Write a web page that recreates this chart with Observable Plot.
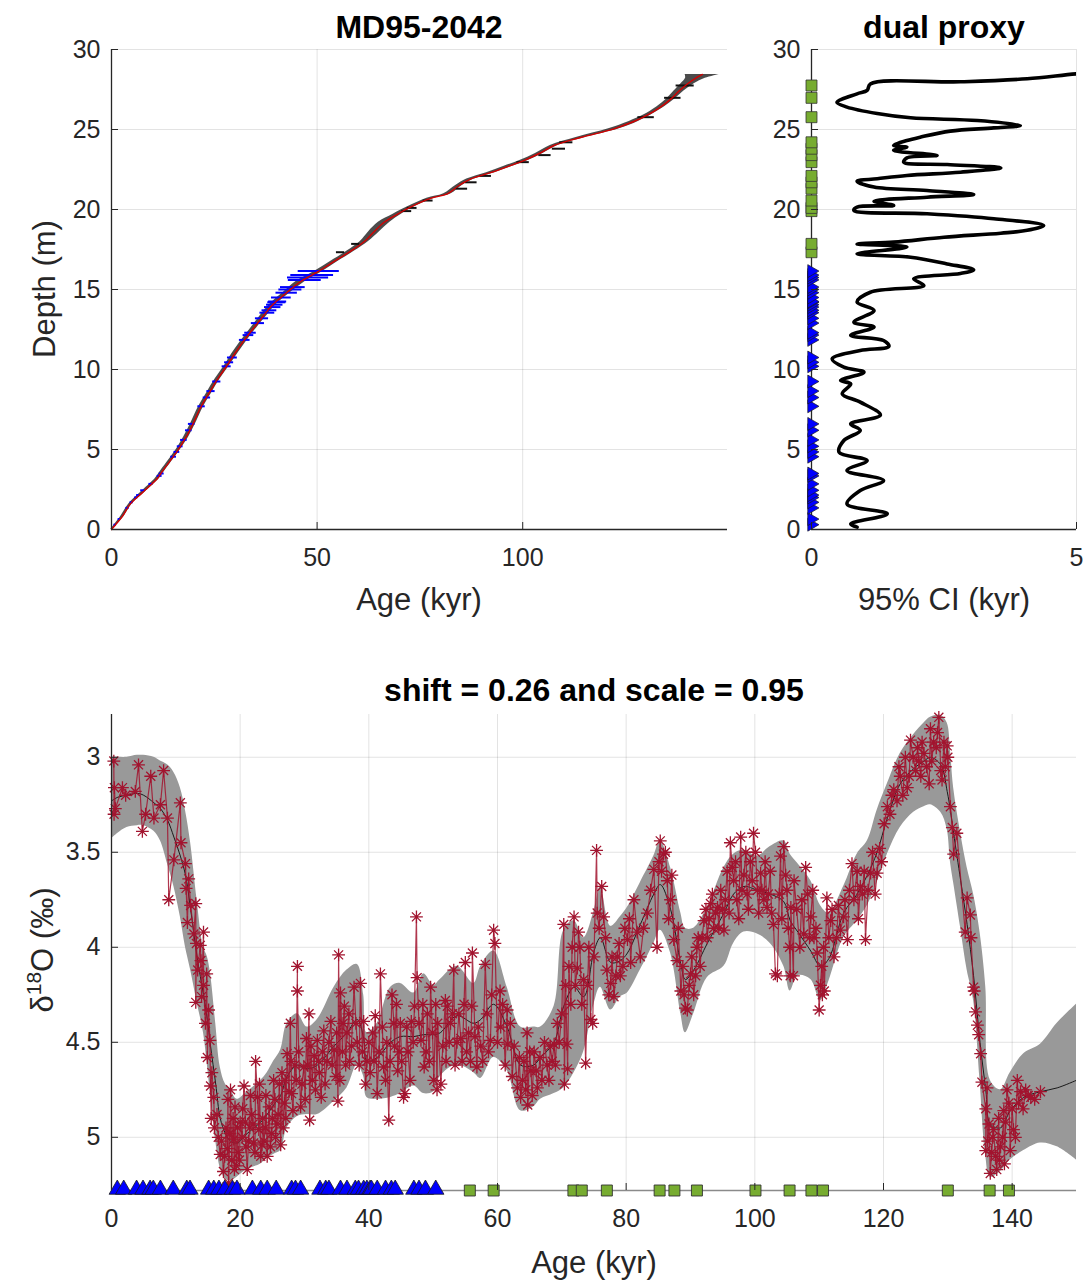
<!DOCTYPE html>
<html>
<head>
<meta charset="utf-8">
<script src="https://cdn.jsdelivr.net/npm/d3@7"></script>
<script src="https://cdn.jsdelivr.net/npm/@observablehq/plot@0.6"></script>
<style>
  body { margin: 0; background: #fff; }
  #root { position: relative; width: 1089px; height: 1285px; font-family: "Liberation Sans", Arial, Helvetica, sans-serif; color: #262626; overflow: hidden; }
  #root svg { position: absolute; overflow: visible; }
  .ttl { position: absolute; font-weight: bold; font-size: 32px; color: #000; transform: translate(-50%, -50%); white-space: nowrap; line-height: 1; }
  .lbl { position: absolute; font-size: 31px; color: #262626; transform: translate(-50%, -50%); white-space: nowrap; line-height: 1; }
  .rot { transform: translate(-50%, -50%) rotate(-90deg); }
  .lbl sup { font-size: 21px; vertical-align: 12px; line-height: 0; }
</style>
</head>
<body>
<div id="root"></div>
<script>
// ---------------- DATA ----------------
// Age-depth model (top left): median age (kyr) at depth (m) and ensemble half-spread
const admDepth  = [0,0.3,0.8,1.6,2.3,3.17,3.5,4.2,4.9,5.8,6.7,7.64,8.6,9.4,10.25,11.0,11.8,12.6,13.4,14.0,14.83,15.5,16.08,16.6,17.4,18.0,18.6,19.2,19.7,20.15,20.7,20.98,21.5,21.9,22.3,22.7,23.06,23.5,24.0,24.5,25.04,25.5,25.9,26.4,26.9,27.4,27.86,28.2,28.44];
const admAge    = [0,1.0,2.6,4.6,7.5,11.1,12.0,14.0,16.0,18.2,20.0,21.7,23.9,25.8,28.1,30.0,32.2,34.6,37.1,39.0,42.7,46.0,50.0,53.2,58.2,61.5,63.8,66.3,69.5,72.7,77.6,81.7,84.5,87.3,92.2,96.5,100.3,104.0,107.6,114.1,122.2,127.0,130.3,133.5,136.0,138.0,140.1,142.0,143.7];
const admSpread = [0.2,0.3,0.4,0.4,0.5,0.5,0.5,0.5,0.5,0.6,0.6,0.6,0.6,0.6,0.6,0.7,0.7,0.7,0.8,0.8,0.9,1.1,1.0,0.9,0.9,1.0,1.3,1.4,1.0,0.8,0.9,0.9,0.8,0.9,1.0,1.0,1.0,0.9,0.9,1.1,1.3,1.1,0.9,0.9,1.0,1.2,1.6,2.4,4.2];

// Radiocarbon dates (blue triangles)
const c14Age   = [0.9,1.9,3.9,4.9,6.0,6.5,7.6,9.6,11.7,12.2,15.1,15.9,16.7,17.6,18.8,19.5,21.9,23.2,24.2,25.6,28.0,28.6,29.4,32.4,33.3,33.8,35.6,36.6,37.9,38.4,39.2,39.7,40.2,40.4,41.3,42.6,43.5,44.1,47.0,47.8,48.8,50.4];
const c14Depth = [0.3,0.65,1.35,1.7,2.0,2.15,2.45,2.85,3.35,3.5,4.55,4.85,5.2,5.6,6.2,6.6,7.7,8.25,8.65,9.25,10.2,10.45,10.75,11.85,12.15,12.3,12.9,13.2,13.55,13.7,13.9,14.05,14.2,14.25,14.5,14.8,15.0,15.15,15.6,15.75,15.9,16.15];
const c14Err   = [0.3,0.3,0.4,0.4,0.4,0.4,0.5,0.5,0.6,0.6,0.7,0.7,0.7,0.8,0.8,0.8,0.9,0.9,1.0,1.0,1.1,1.1,1.2,1.3,1.3,1.4,1.6,1.6,1.8,1.8,2.0,2.0,2.2,2.2,2.4,2.6,2.8,3.0,4.0,5.0,5.2,5.0];

// Tie points (green squares)
const tieAge   = [55.7,59.4,71.8,73.1,77.0,85.2,87.5,91.0,100.1,105.4,108.8,110.6,130.0,136.5,139.5];
const tieDepth = [17.33,17.85,19.9,20.1,20.56,21.3,21.7,22.1,22.96,23.4,23.8,24.2,25.77,26.98,27.75];
const tieErr   = [1.0,1.0,1.2,1.2,1.2,1.4,1.4,1.4,1.5,1.5,1.6,1.6,2.0,2.0,2.2];

// 95% CI width (kyr) versus depth (top right)
const ciDepth = [28.6,28.48,28.17,27.98,27.85,27.44,27.23,26.7,26.4,26.0,25.73,25.56,25.25,25.1,24.9,24.52,24.31,24.0,23.9,23.69,23.38,23.23,22.96,22.81,22.6,22.33,22.13,21.92,21.77,21.4,21.19,20.94,20.77,20.52,20.25,20.15,19.94,19.73,19.42,19.0,18.7,18.52,18.27,17.96,17.85,17.65,17.23,17.02,16.6,16.23,16.0,15.67,15.25,14.83,14.21,13.69,12.96,12.65,12.13,11.81,11.44,11.19,10.67,10.15,9.83,9.31,9.1,8.48,7.96,7.15,6.6,6.19,5.56,4.83,4.31,3.69,3.06,2.44,1.6,0.98,0.35,0.15];
const ciValue = [5.6,5.0,4.07,2.81,1.11,1.05,0.86,0.48,0.67,1.24,1.87,3.13,3.94,3.44,2.62,2.05,1.80,1.55,1.80,1.55,2.37,1.80,1.74,2.56,3.57,2.81,1.80,1.24,0.86,1.18,2.18,3.06,2.18,1.18,1.55,0.86,0.80,2.18,3.44,4.38,4.07,3.57,2.50,1.55,0.86,1.80,0.86,1.87,2.56,3.06,2.81,1.93,2.12,1.11,0.86,1.18,0.80,1.18,0.74,1.36,1.46,0.92,0.39,0.61,0.99,0.55,0.74,0.58,0.92,1.30,0.74,0.92,0.61,0.52,1.05,0.67,1.36,0.92,0.67,1.43,0.74,0.86];

// d18O stack envelope (bottom): age, upper bound, median, lower bound
const bandAge    = [0,1,2.4,4,5,6.6,7.6,8.7,9.7,10.7,11.5,12.3,13.3,14.3,14.9,15.4,16.2,16.9,17.7,18.5,19.5,21.1,23.2,24.2,25.2,26.3,27.3,28.9,30.4,32,34.6,36.6,38.2,39.2,39.7,41.3,43.4,44.9,47,48.5,50.1,51.1,53.7,56.3,57.4,59.4,61.5,63.6,65.6,66.7,68.8,70.3,71.9,73.4,75,76,77.6,79.1,80.2,82.2,84.3,85.3,86.9,88.5,89.2,90.5,92.6,95.2,96.7,98.3,100.4,102.4,104.5,105.5,106.7,108.7,110.2,111.5,113.8,115.9,117.5,119,120.6,122.6,124.7,126.3,127.3,128.9,129.9,130.4,130.9,132,133,134,135,135.9,136.6,138.2,139.7,141.8,144.4,147,150];
const bandUpper  = [3.00,3.00,3.00,2.99,2.99,3.00,3.02,3.04,3.08,3.16,3.28,3.45,3.75,4.00,4.05,4.14,4.40,4.63,4.72,4.75,4.80,4.76,4.70,4.66,4.60,4.54,4.40,4.35,4.42,4.38,4.21,4.12,4.09,4.25,4.45,4.40,4.21,4.19,4.24,4.14,4.20,4.17,4.10,4.19,4.10,4.02,4.21,4.42,4.42,4.42,4.31,3.91,3.86,3.95,3.81,3.68,3.89,3.84,3.79,3.66,3.52,3.44,3.58,3.82,3.90,3.90,3.79,3.58,3.51,3.49,3.52,3.47,3.44,3.51,3.56,3.65,3.78,3.82,3.68,3.51,3.44,3.28,3.14,2.98,2.88,2.82,2.79,2.78,2.82,2.96,3.16,3.40,3.58,3.72,3.92,4.21,4.70,4.75,4.66,4.56,4.51,4.40,4.30];
const bandMedian = [3.23,3.21,3.20,3.19,3.20,3.24,3.27,3.33,3.42,3.52,3.62,3.80,4.05,4.25,4.38,4.52,4.72,4.90,4.98,5.02,5.03,4.98,4.92,4.88,4.83,4.78,4.68,4.62,4.64,4.62,4.52,4.45,4.38,4.48,4.60,4.58,4.50,4.47,4.47,4.46,4.46,4.45,4.36,4.40,4.38,4.30,4.42,4.62,4.62,4.58,4.50,4.31,4.21,4.26,4.02,3.95,4.08,4.07,4.03,3.88,3.72,3.67,3.80,4.09,4.17,4.12,3.98,3.82,3.72,3.68,3.70,3.72,3.76,3.86,3.92,4.02,4.10,4.06,3.82,3.72,3.62,3.50,3.32,3.14,3.06,3.02,3.00,3.04,3.18,3.28,3.40,3.65,3.88,4.15,4.50,4.75,4.93,4.95,4.86,4.79,4.76,4.74,4.70];
const bandLower  = [3.43,3.40,3.37,3.36,3.36,3.39,3.44,3.56,3.68,3.84,4.00,4.12,4.29,4.45,4.62,4.78,5.02,5.16,5.22,5.23,5.21,5.17,5.14,5.11,5.09,5.07,4.95,4.89,4.88,4.88,4.81,4.74,4.62,4.68,4.79,4.80,4.79,4.77,4.73,4.77,4.76,4.68,4.62,4.66,4.69,4.58,4.65,4.86,4.84,4.80,4.77,4.74,4.66,4.55,4.30,4.21,4.33,4.26,4.24,4.12,3.98,3.91,4.03,4.35,4.45,4.35,4.16,4.10,3.98,3.92,3.93,3.98,4.10,4.23,4.15,4.17,4.28,4.18,3.95,3.86,3.78,3.66,3.51,3.37,3.29,3.26,3.25,3.29,3.38,3.55,3.66,3.90,4.12,4.28,4.70,5.10,5.21,5.18,5.12,5.07,5.03,5.05,5.12];

// MD95-2042 d18O measurements on the model age scale: [age kyr, d18O permil]
const d18oDeglacial = [[0.36,3.02],[0.4,3.3],[0.45,3.16],[0.6,3.27],[1.7,3.16],[2.2,3.2],[3.7,3.18],[4.2,3.04],[4.8,3.39],[5.3,3.3],[6.1,3.1],[6.6,3.32],[7.6,3.25],[8.1,3.07],[8.7,3.32],[8.9,3.75],[9.7,3.54],[10.7,3.24],[10.8,3.45],[11.5,3.56],[11.6,3.69],[11.8,3.87],[12.0,3.64],[12.3,3.78],[12.8,3.93],[13.1,3.77],[13.1,4.29],[13.2,3.98],[13.4,4.12],[13.8,3.99],[13.9,4.07],[14.0,4.26],[14.3,3.92],[14.3,4.2],[14.6,4.4],[14.8,4.14],[14.9,4.58],[15.1,4.33],[15.3,4.49],[15.4,4.73],[15.5,4.9],[15.6,4.66],[15.9,4.79],[16.0,4.95],[16.4,4.88],[16.6,5.0],[16.9,5.09],[17.1,5.02],[17.4,5.18],[17.6,5.1],[17.8,4.95],[18.0,5.06],[18.1,4.8],[18.2,5.24],[18.4,4.98],[18.5,4.75],[18.7,5.12],[18.9,4.9],[19.0,5.01],[19.1,5.17],[19.2,4.84],[19.4,5.15],[19.6,4.95],[19.7,5.08],[19.9,5.12],[20.0,4.92]];
const d18oGlacial = [[20.3,5.0],[20.4,4.85],[20.6,4.73],[20.8,4.92],[20.9,5.05],[21.1,5.17],[21.3,5.02],[21.5,4.95],[21.6,4.78],[21.8,4.88],[22.0,4.93],[22.1,5.03],[22.3,5.08],[22.4,4.6],[22.7,4.79],[22.9,4.96],[23.0,4.72],[23.2,5.1],[23.4,5.04],[23.5,4.9],[23.7,5.02],[23.9,4.95],[24.0,4.78],[24.2,5.1],[24.5,4.84],[24.7,5.05],[24.9,4.98],[25.0,4.9],[25.2,4.7],[25.4,4.8],[25.5,5.0],[25.7,4.93],[25.9,4.88],[26.1,4.72],[26.3,5.04],[26.5,4.66],[26.7,4.95],[26.9,4.82],[27.0,4.7],[27.1,4.9],[27.3,4.56],[27.6,4.76],[27.8,4.4],[27.9,4.6],[28.0,4.77],[28.2,4.86],[28.5,4.62],[28.7,4.7],[28.9,4.1],[28.9,4.23],[29.1,4.55],[29.4,4.84],[29.6,4.72],[29.9,4.63],[30.1,4.8],[30.3,4.48],[30.5,4.62],[30.7,4.35],[30.8,4.91],[31.0,4.52],[31.2,4.7],[31.5,4.57],[31.7,4.75],[32.0,4.49],[32.2,4.6],[32.3,4.66],[32.6,4.79],[32.8,4.55],[33.0,4.44],[33.2,4.72],[33.5,4.6],[33.8,4.5],[34.1,4.39],[34.3,4.62],[34.6,4.54],[34.9,4.68],[35.0,4.45],[35.2,4.81],[35.3,4.04],[35.5,4.7],[35.6,4.24],[35.9,4.55],[36.0,4.4],[36.2,4.31],[36.4,4.62],[36.6,4.45],[36.9,4.35],[37.0,4.6],[37.3,4.52],[37.7,4.21],[38.0,4.4],[38.2,4.5],[38.5,4.62],[38.7,4.19],[39.0,4.55],[39.2,4.39],[39.5,4.72],[39.7,4.6],[40.0,4.5],[40.2,4.66],[40.6,4.45],[40.8,4.6],[41.0,4.36],[41.3,4.77],[41.6,4.55],[41.8,4.14],[42.1,4.42],[42.3,4.63],[42.6,4.7],[42.8,4.5],[43.1,4.91],[43.3,4.6],[43.6,4.25],[43.9,4.4],[44.0,4.52],[44.3,4.3],[44.5,4.65],[44.7,4.55],[44.9,4.4],[45.1,4.6],[45.4,4.79],[45.6,4.77],[45.9,4.42],[46.1,4.55],[46.4,4.7],[46.6,4.39],[46.9,4.5],[47.1,4.31],[47.4,3.84],[47.5,4.16],[47.8,4.4],[48.1,4.49],[48.4,4.3],[48.6,4.63],[48.9,4.55],[49.1,4.35],[49.4,4.6],[49.6,4.21],[49.9,4.45],[50.1,4.7],[50.4,4.3],[50.6,4.75],[50.7,4.4],[51.2,4.72],[51.5,4.52],[51.9,4.28],[52.0,4.6],[52.2,4.31],[52.5,4.5],[52.7,4.4],[53.0,4.35],[53.2,4.12],[53.4,4.62],[53.7,4.5],[54.0,4.35],[54.3,4.48],[54.5,4.6],[54.8,4.3],[55.0,4.08],[55.2,4.55],[55.5,4.45],[55.8,4.6],[56.0,4.31],[56.1,4.03],[56.5,4.47],[56.8,4.63],[57.0,4.42],[57.4,4.52],[57.7,4.6],[58.1,4.09],[58.4,4.35],[58.6,4.55],[58.9,4.49],[59.1,4.25],[59.4,3.91],[59.6,3.98],[60.0,4.5],[60.4,4.23],[60.5,4.42],[60.8,4.3],[61.2,4.62],[61.5,4.33],[61.6,4.51],[62.0,4.4],[62.3,4.68],[62.6,4.52],[63.1,4.74],[63.4,4.58],[63.6,4.79],[63.9,4.7],[64.1,4.6],[64.4,4.75],[64.6,4.45],[64.7,4.83],[65.0,4.55],[65.2,4.65],[65.4,4.78],[65.7,4.55],[66.0,4.65],[66.2,4.74],[66.6,4.58],[66.9,4.7],[67.3,4.5],[67.7,4.62],[68.0,4.7],[68.2,4.52],[68.5,4.6],[68.8,4.51],[69.0,4.62],[69.3,4.4],[69.6,4.5],[70.0,4.35],[70.3,3.88],[70.4,4.72],[70.6,4.2],[70.8,4.51],[70.9,4.64]];
const d18oMIS5 = [[71.1,4.1],[71.4,4.3],[71.6,4.0],[71.9,3.84],[72.1,4.2],[72.4,4.11],[72.6,3.92],[72.8,4.0],[73.1,4.3],[73.4,4.17],[73.7,4.61],[74.0,4.2],[74.2,4.0],[74.5,4.38],[74.8,4.4],[75.0,4.05],[75.4,3.49],[75.5,3.82],[75.8,3.9],[76.2,3.68],[76.5,3.84],[76.8,3.95],[77.0,4.12],[77.3,4.25],[77.6,4.19],[77.8,4.05],[78.1,4.26],[78.4,4.15],[78.6,4.05],[78.9,3.98],[79.1,4.15],[79.5,4.1],[79.8,3.9],[80.2,3.96],[80.5,3.85],[80.7,4.08],[81.2,3.75],[81.7,3.92],[82.2,4.05],[82.7,3.9],[83.3,3.82],[83.8,3.7],[84.3,3.59],[84.8,4.0],[85.1,3.55],[85.3,3.44],[85.5,3.6],[85.8,3.51],[86.1,3.5],[86.4,3.65],[86.6,3.85],[86.9,3.75],[87.1,3.62],[87.4,3.96],[87.9,4.07],[88.1,3.9],[88.5,4.23],[88.8,4.1],[89.0,4.25],[89.2,4.32],[89.5,4.33],[89.8,4.2],[90.0,4.14],[90.2,4.05],[90.5,4.25],[90.8,4.15],[91.0,4.0],[91.2,3.95],[91.5,4.1],[91.8,3.95],[92.1,3.86],[92.4,3.8],[92.6,3.95],[92.9,3.85],[93.1,3.77],[93.4,3.72],[93.6,3.9],[93.9,3.82],[94.2,3.79],[94.4,3.9],[94.7,3.7],[95.0,3.8],[95.2,3.91],[95.4,3.75],[95.7,3.6],[96.0,3.82],[96.2,3.45],[96.5,3.58],[96.7,3.65],[97.0,3.55],[97.2,3.75],[97.5,3.85],[97.8,3.42],[98.0,3.7],[98.3,3.62],[98.6,3.5],[98.8,3.72],[99.0,3.8],[99.3,3.55],[99.6,3.65],[99.8,3.4],[100.1,3.5],[100.4,3.7],[100.6,3.82],[100.9,3.61],[101.1,3.7],[101.4,3.75],[101.6,3.55],[101.9,3.79],[102.1,3.72],[102.4,3.6],[102.6,3.82],[102.9,3.88],[103.2,4.14],[103.5,4.15],[103.8,3.72],[104.0,3.52],[104.2,3.85],[104.5,3.47],[104.8,3.62],[105.0,3.7],[105.2,3.9],[105.4,4.0],[105.5,4.15],[105.6,3.79],[106.0,4.15],[106.1,3.65],[106.5,3.8],[107.0,4.0],[107.3,3.75],[107.6,3.93],[107.9,3.58],[108.2,3.72],[108.5,3.95],[108.7,3.84],[109.0,3.7],[109.2,3.95],[109.5,3.9],[109.7,4.03],[110.0,4.33],[110.2,4.2],[110.4,4.1],[110.5,4.25],[110.7,4.0],[110.8,4.23],[111.2,3.74],[111.5,3.95],[111.8,3.86],[112.0,3.8],[112.3,4.05],[112.7,3.95],[113.0,3.78],[113.3,3.91],[113.8,3.84],[114.0,3.75],[114.4,3.96],[114.7,3.7],[115.1,3.56],[115.4,3.75],[115.9,3.6],[116.1,3.85],[116.4,3.68],[116.7,3.72],[117.0,3.6],[117.2,3.96],[117.6,3.7],[118.0,3.61],[118.3,3.5],[118.7,3.72],[119.0,3.61],[119.4,3.48],[119.7,3.55],[120.1,3.35]];
const d18oTermII = [[120.6,3.26],[121.0,3.3],[121.3,3.2],[121.6,3.17],[122.1,3.23],[122.4,3.05],[122.6,3.1],[123.0,3.2],[123.4,3.0],[123.7,3.16],[124.0,3.1],[124.2,2.91],[124.6,3.0],[125.0,3.07],[125.3,2.95],[125.5,3.02],[125.8,3.1],[126.0,2.92],[126.3,2.98],[126.7,3.05],[127.1,3.14],[127.3,2.85],[127.5,3.02],[127.8,2.92],[128.2,2.95],[128.4,2.87],[128.6,2.79],[128.9,3.07],[129.1,3.12],[129.4,2.92],[129.6,3.05],[129.9,2.94],[130.0,3.0],[130.4,3.26],[130.7,3.37],[130.9,3.51],[131.4,3.4],[132.7,3.92],[133.0,3.74],[133.5,3.83],[133.6,3.95],[134.0,4.21],[134.1,4.23],[134.3,4.34],[134.6,4.41],[134.8,4.46],[135.1,4.56],[135.3,4.71],[135.9,4.85],[135.9,5.07],[136.1,4.74],[136.2,5.02],[136.4,4.93],[136.6,5.19],[136.8,5.08],[137.0,5.0],[137.1,4.96],[137.4,5.1],[137.6,5.17],[137.9,4.9],[138.0,5.12],[138.2,5.05],[138.5,5.0],[138.7,4.86],[138.8,5.14],[139.0,4.92],[139.2,4.75],[139.5,4.82],[139.7,5.07],[140.0,4.85],[140.2,4.96],[140.5,5.0],[140.8,4.7],[141.0,4.82],[141.3,4.76],[141.7,4.85],[142.1,4.75],[142.5,4.78],[142.9,4.79],[143.5,4.8],[144.4,4.76]];

// Ticks
const topAgeTicks = [0, 50, 100];
const depthTicks = [0, 5, 10, 15, 20, 25, 30];
const ciTicks = [0, 5];
const ageTicks = [0, 20, 40, 60, 80, 100, 120, 140];
const d18Ticks = [3, 3.5, 4, 4.5, 5];

// Domains
const topAgeDomain = [0, 149.8];
const depthDomain = [0, 30];
const ciDomain = [0, 5];
const ageDomain = [0, 150];
const d18Domain = [2.775, 5.28];

// ---------------- TABLES ----------------
const adm = admDepth.map((d, i) => ({depth: d, age: admAge[i], lo: admAge[i] - admSpread[i], hi: admAge[i] + admSpread[i]}));
const c14 = c14Age.map((a, i) => ({age: a, depth: c14Depth[i], err: c14Err[i]}));
const ties = tieAge.map((a, i) => ({age: a, depth: tieDepth[i], err: tieErr[i]}));
const ci = ciDepth.map((d, i) => ({depth: d, ci: ciValue[i]}));
const band = bandAge.map((a, i) => ({age: a, up: bandUpper[i], med: bandMedian[i], lo: bandLower[i]}));
const d18 = d3.sort([...d18oDeglacial, ...d18oGlacial, ...d18oMIS5, ...d18oTermII], d => d[0]).map(([age, v]) => ({age, v}));

// ---------------- STYLE ----------------
const FONT = '"Liberation Sans", Arial, Helvetica, sans-serif';
const AX = "#262626";
const GRID = {stroke: "#262626", strokeOpacity: 0.13, strokeWidth: 1};
const baseStyle = {fontFamily: FONT, fontSize: "25px", color: AX, background: "transparent", overflow: "visible"};

const star8 = {
  draw(ctx, size) {
    const r = Math.sqrt(size / Math.PI), d = r * Math.SQRT1_2;
    ctx.moveTo(-r, 0); ctx.lineTo(r, 0);
    ctx.moveTo(0, -r); ctx.lineTo(0, r);
    ctx.moveTo(-d, -d); ctx.lineTo(d, d);
    ctx.moveTo(-d, d); ctx.lineTo(d, -d);
  }
};
const triRight = {
  draw(ctx, size) {
    const s = Math.sqrt(4 * size / Math.sqrt(3)), h = s * Math.sqrt(3) / 2;
    ctx.moveTo(2 * h / 3, 0); ctx.lineTo(-h / 3, -s / 2); ctx.lineTo(-h / 3, s / 2); ctx.closePath();
  }
};

const root = document.getElementById("root");

// ---------------- TOP LEFT ----------------
const p1 = Plot.plot({
  width: 745, height: 620, marginLeft: 111, marginRight: 18, marginTop: 49, marginBottom: 91,
  style: baseStyle,
  x: {domain: topAgeDomain},
  y: {domain: depthDomain},
  marks: [
    Plot.gridX(topAgeTicks, GRID),
    Plot.gridY(depthTicks, GRID),
    Plot.areaX(adm, {y: "depth", x1: "lo", x2: "hi", fill: "#1e1e1e", fillOpacity: 0.8, curve: "catmull-rom"}),
    Plot.ruleY(ties, {y: "depth", x1: d => d.age - d.err, x2: d => d.age + d.err, stroke: "#111", strokeWidth: 2}),
    Plot.ruleY(c14, {y: "depth", x1: d => d.age - d.err, x2: d => d.age + d.err, stroke: "#0000ff", strokeWidth: 2}),
    Plot.line(adm, {x: "age", y: "depth", stroke: "#d40000", strokeWidth: 1.4, curve: "catmull-rom"}),
    Plot.ruleX([topAgeDomain[0]], {stroke: AX, strokeWidth: 1.3}),
    Plot.ruleY([depthDomain[0]], {stroke: AX, strokeWidth: 1.3}),
    Plot.axisX(topAgeTicks, {tickSize: -7, tickPadding: 26, label: null, stroke: AX, fill: AX}),
    Plot.axisY(depthTicks, {tickSize: -7, tickPadding: 18, label: null, stroke: AX, fill: AX})
  ]
});
p1.style.left = "0px"; p1.style.top = "0px";
root.appendChild(p1);

// ---------------- TOP RIGHT ----------------
const p2 = Plot.plot({
  width: 344, height: 620, marginLeft: 66, marginRight: 13, marginTop: 49, marginBottom: 91,
  style: baseStyle,
  x: {domain: ciDomain},
  y: {domain: depthDomain},
  marks: [
    Plot.gridX(ciTicks, GRID),
    Plot.gridY(depthTicks, GRID),
    Plot.line(ci, {x: "ci", y: "depth", stroke: "#000", strokeWidth: 3.6, strokeLinejoin: "round", curve: "catmull-rom", clip: true}),
    Plot.ruleX([ciDomain[0]], {stroke: AX, strokeWidth: 1.3}),
    Plot.ruleY([depthDomain[0]], {stroke: AX, strokeWidth: 1.3}),
    Plot.dot(ties, {y: "depth", frameAnchor: "left", symbol: "square", r: 6.2, fill: "#77AC30", stroke: "#333", strokeWidth: 0.8}),
    Plot.dot(c14, {y: "depth", frameAnchor: "left", symbol: triRight, r: 4.8, fill: "#0000ff", stroke: "#1a1a1a", strokeWidth: 0.7}),
    Plot.axisX(ciTicks, {tickSize: -7, tickPadding: 26, label: null, stroke: AX, fill: AX}),
    Plot.axisY(depthTicks, {tickSize: -7, tickPadding: 18, label: null, stroke: AX, fill: AX})
  ]
});
p2.style.left = "745px"; p2.style.top = "0px";
root.appendChild(p2);

// ---------------- BOTTOM ----------------
const p3 = Plot.plot({
  width: 1089, height: 645, marginLeft: 111, marginRight: 13, marginTop: 74, marginBottom: 95,
  style: baseStyle,
  x: {domain: ageDomain},
  y: {domain: d18Domain, reverse: true},
  marks: [
    Plot.gridX(ageTicks, GRID),
    Plot.gridY(d18Ticks, GRID),
    Plot.areaY(band, {x: "age", y1: "up", y2: "lo", fill: "#999999", curve: "catmull-rom", clip: true}),
    Plot.line(band, {x: "age", y: "med", stroke: "#1a1a1a", strokeWidth: 1, curve: "catmull-rom", clip: true}),
    Plot.line(d18, {x: "age", y: "v", stroke: "#A2142F", strokeWidth: 1.2, strokeOpacity: 0.85}),
    Plot.dot(d18, {x: "age", y: "v", symbol: star8, r: 6.4, fill: "none", stroke: "#A2142F", strokeWidth: 1.3}),
    Plot.ruleY([d18Domain[1]], {stroke: "#8a8a8a", strokeWidth: 1.5}),
    Plot.ruleX([ageDomain[0]], {stroke: AX, strokeWidth: 1.3}),
    Plot.dot(ties, {x: "age", frameAnchor: "bottom", symbol: "square", r: 6.2, fill: "#77AC30", stroke: "#333", strokeWidth: 0.9}),
    Plot.dot(c14, {x: "age", frameAnchor: "bottom", dy: -1, symbol: "triangle", r: 6.1, fill: "#0000ff", stroke: "#1a1a1a", strokeWidth: 0.8}),
    Plot.axisX(ageTicks, {tickSize: -7, tickPadding: 26, label: null, stroke: AX, fill: AX}),
    Plot.axisY(d18Ticks, {tickSize: -7, tickPadding: 18, label: null, tickFormat: d => String(d), stroke: AX, fill: AX})
  ]
});
p3.style.left = "0px"; p3.style.top = "640px";
root.appendChild(p3);

// ---------------- TITLES & LABELS ----------------
const texts = [
  {cls: "ttl", html: "MD95-2042", x: 419, y: 27},
  {cls: "ttl", html: "dual proxy", x: 944, y: 27},
  {cls: "ttl", html: "shift = 0.26 and scale = 0.95", x: 594, y: 690},
  {cls: "lbl rot", html: "Depth (m)", x: 44, y: 289},
  {cls: "lbl", html: "Age (kyr)", x: 419, y: 599},
  {cls: "lbl", html: "95% CI (kyr)", x: 944, y: 599},
  {cls: "lbl rot", html: "δ<sup>18</sup>O (‰)", x: 42, y: 950},
  {cls: "lbl", html: "Age (kyr)", x: 594, y: 1262}
];
for (const t of texts) {
  const el = document.createElement("div");
  el.className = t.cls;
  el.innerHTML = t.html;
  el.style.left = t.x + "px";
  el.style.top = t.y + "px";
  root.appendChild(el);
}
</script>
</body>
</html>
